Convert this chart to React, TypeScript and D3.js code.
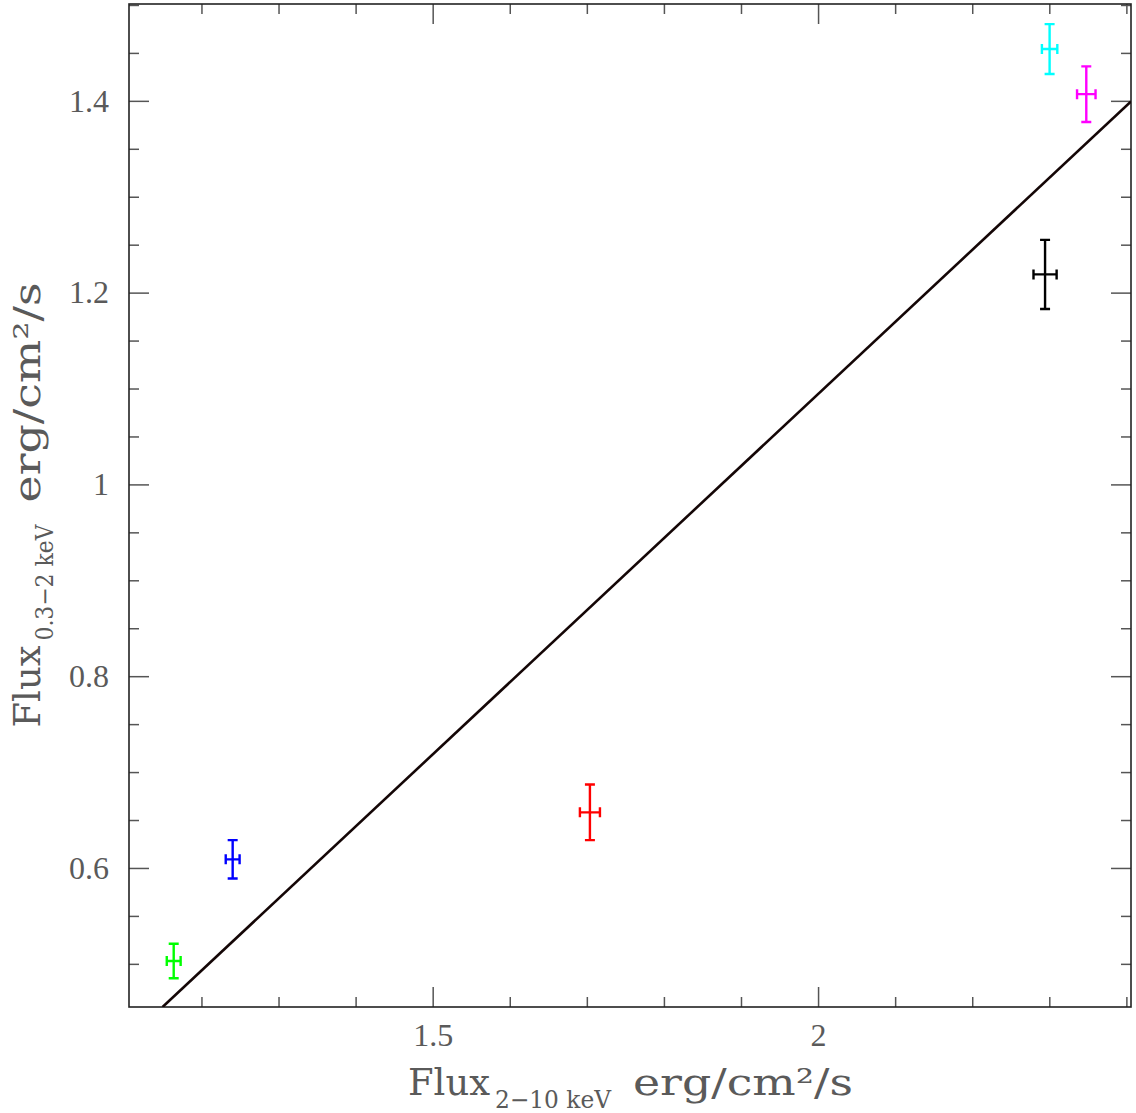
import { useEffect, useRef } from "react";
import * as d3 from "d3";

// observations (x = 2-10 keV flux, y = 0.3-2 keV flux)
const xVals = [1.164, 1.2405, 1.704, 2.2945, 2.3004, 2.348];
const yVals = [0.503, 0.609, 0.658, 1.219, 1.454, 1.407];
const xErr = [0.009, 0.009, 0.013, 0.015, 0.01, 0.012];
const yErr = [0.018, 0.02, 0.029, 0.036, 0.026, 0.029];
const pointColors = ["#00ff00", "#0000ff", "#ff0000", "#000000", "#00ffff", "#ff00ff"];

// linear fit y = slope * x + intercept
const fitSlope = 0.7516;
const fitIntercept = -0.409;

const xMajor = [1.5, 2];
const xMinor = [1.2, 1.3, 1.4, 1.6, 1.7, 1.8, 1.9, 2.1, 2.2, 2.3, 2.4];
const yMajor = [0.6, 0.8, 1, 1.2, 1.4];
const yMinor = [0.5, 0.55, 0.65, 0.7, 0.75, 0.85, 0.9, 0.95, 1.05, 1.1, 1.15, 1.25, 1.3, 1.35, 1.45, 1.5];

const W = 1136,
  H = 1113;
const margin = { top: 4, right: 5, bottom: 106, left: 129 };
const FONT = "'Liberation Serif', 'DejaVu Serif', serif";
const TITLE_FONT = "'DejaVu Serif', serif";
const TEXT = "#5a5a5a";

const App = () => {
  const ref = useRef<SVGSVGElement>(null);

  useEffect(() => {
    const svg = d3.select(ref.current);
    svg.selectAll("*").remove();

    const x = d3.scaleLinear().domain([1.106, 2.406]).range([margin.left, W - margin.right]);
    const y = d3.scaleLinear().domain([0.455, 1.501]).range([H - margin.bottom, margin.top]);
    const [x0, x1] = x.range();
    const [y0, y1] = y.range();

    svg.append("rect").attr("width", W).attr("height", H).attr("fill", "#fff");

    svg
      .append("defs")
      .append("clipPath")
      .attr("id", "plotClip")
      .append("rect")
      .attr("x", x0)
      .attr("y", y1)
      .attr("width", x1 - x0)
      .attr("height", y0 - y1);

    function styleAxis(g, withLabels) {
      g.select(".domain").remove();
      g.selectAll(".tick line").attr("stroke", "#555").attr("stroke-width", 1.5);
      if (withLabels) {
        g.selectAll(".tick text")
          .attr("fill", TEXT)
          .style("font-family", FONT)
          .style("font-size", "32px");
      } else {
        g.selectAll(".tick text").remove();
      }
    }

    // bottom
    svg
      .append("g")
      .attr("transform", `translate(0,${y0})`)
      .call(d3.axisBottom(x).tickValues(xMajor).tickSize(-20).tickPadding(16).tickFormat((d) => String(d)))
      .call((g) => styleAxis(g, true));
    svg
      .append("g")
      .attr("transform", `translate(0,${y0})`)
      .call(d3.axisBottom(x).tickValues(xMinor).tickSize(-10))
      .call((g) => styleAxis(g, false));
    // top
    svg
      .append("g")
      .attr("transform", `translate(0,${y1})`)
      .call(d3.axisTop(x).tickValues(xMajor).tickSize(-20))
      .call((g) => styleAxis(g, false));
    svg
      .append("g")
      .attr("transform", `translate(0,${y1})`)
      .call(d3.axisTop(x).tickValues(xMinor).tickSize(-10))
      .call((g) => styleAxis(g, false));
    // left
    svg
      .append("g")
      .attr("transform", `translate(${x0},0)`)
      .call(d3.axisLeft(y).tickValues(yMajor).tickSize(-20).tickPadding(20).tickFormat((d) => String(d)))
      .call((g) => styleAxis(g, true));
    svg
      .append("g")
      .attr("transform", `translate(${x0},0)`)
      .call(d3.axisLeft(y).tickValues(yMinor).tickSize(-10))
      .call((g) => styleAxis(g, false));
    // right
    svg
      .append("g")
      .attr("transform", `translate(${x1},0)`)
      .call(d3.axisRight(y).tickValues(yMajor).tickSize(-20))
      .call((g) => styleAxis(g, false));
    svg
      .append("g")
      .attr("transform", `translate(${x1},0)`)
      .call(d3.axisRight(y).tickValues(yMinor).tickSize(-10))
      .call((g) => styleAxis(g, false));

    // frame
    svg
      .append("rect")
      .attr("x", x0)
      .attr("y", y1)
      .attr("width", x1 - x0)
      .attr("height", y0 - y1)
      .attr("fill", "none")
      .attr("stroke", "#222")
      .attr("stroke-width", 1.6);

    // fit line
    const xStart = (y.domain()[0] - fitIntercept) / fitSlope;
    const xEnd = x.domain()[1];
    svg
      .append("line")
      .attr("clip-path", "url(#plotClip)")
      .attr("x1", x(xStart))
      .attr("y1", y(fitSlope * xStart + fitIntercept))
      .attr("x2", x(xEnd))
      .attr("y2", y(fitSlope * xEnd + fitIntercept))
      .attr("stroke", "#140606")
      .attr("stroke-width", 2.6);

    // error bars
    const cap = 5;
    const pts = svg
      .append("g")
      .selectAll("g")
      .data(xVals.map((v, i) => i))
      .enter()
      .append("g")
      .attr("stroke", (i) => pointColors[i])
      .attr("stroke-width", 2.4)
      .attr("fill", "none");
    pts
      .append("path")
      .attr("d", (i) => {
        const cx = x(xVals[i]),
          cy = y(yVals[i]);
        const xl = x(xVals[i] - xErr[i]),
          xr = x(xVals[i] + xErr[i]);
        const yt = y(yVals[i] + yErr[i]),
          yb = y(yVals[i] - yErr[i]);
        return (
          `M${xl},${cy}H${xr}` +
          `M${cx},${yt}V${yb}` +
          `M${xl},${cy - cap}V${cy + cap}` +
          `M${xr},${cy - cap}V${cy + cap}` +
          `M${cx - cap},${yt}H${cx + cap}` +
          `M${cx - cap},${yb}H${cx + cap}`
        );
      });

    // axis titles
    function axisTitle(g, main, sub, rest) {
      g.append("text").attr("x", -222).attr("y", 0).attr("textLength", 82).attr("lengthAdjust", "spacingAndGlyphs")
        .style("font-size", "37px").text(main);
      g.append("text").attr("x", -135).attr("y", 13).attr("textLength", 116).attr("lengthAdjust", "spacingAndGlyphs")
        .style("font-size", "24px").text(sub);
      g.append("text").attr("x", 3).attr("y", 0).attr("textLength", 220).attr("lengthAdjust", "spacingAndGlyphs")
        .style("font-size", "37px").text(rest);
      g.attr("fill", TEXT).style("font-family", TITLE_FONT);
    }
    axisTitle(
      svg.append("g").attr("transform", `translate(${(x0 + x1) / 2},${y0 + 88})`),
      "Flux",
      "2−10 keV",
      "erg/cm²/s"
    );
    axisTitle(
      svg.append("g").attr("transform", `translate(${x0 - 89},${(y0 + y1) / 2}) rotate(-90)`),
      "Flux",
      "0.3−2 keV",
      "erg/cm²/s"
    );
  }, []);

  return <svg ref={ref} width={W} height={H} style={{ position: "absolute", left: 0, top: 0 }} />;
};

export default App;
